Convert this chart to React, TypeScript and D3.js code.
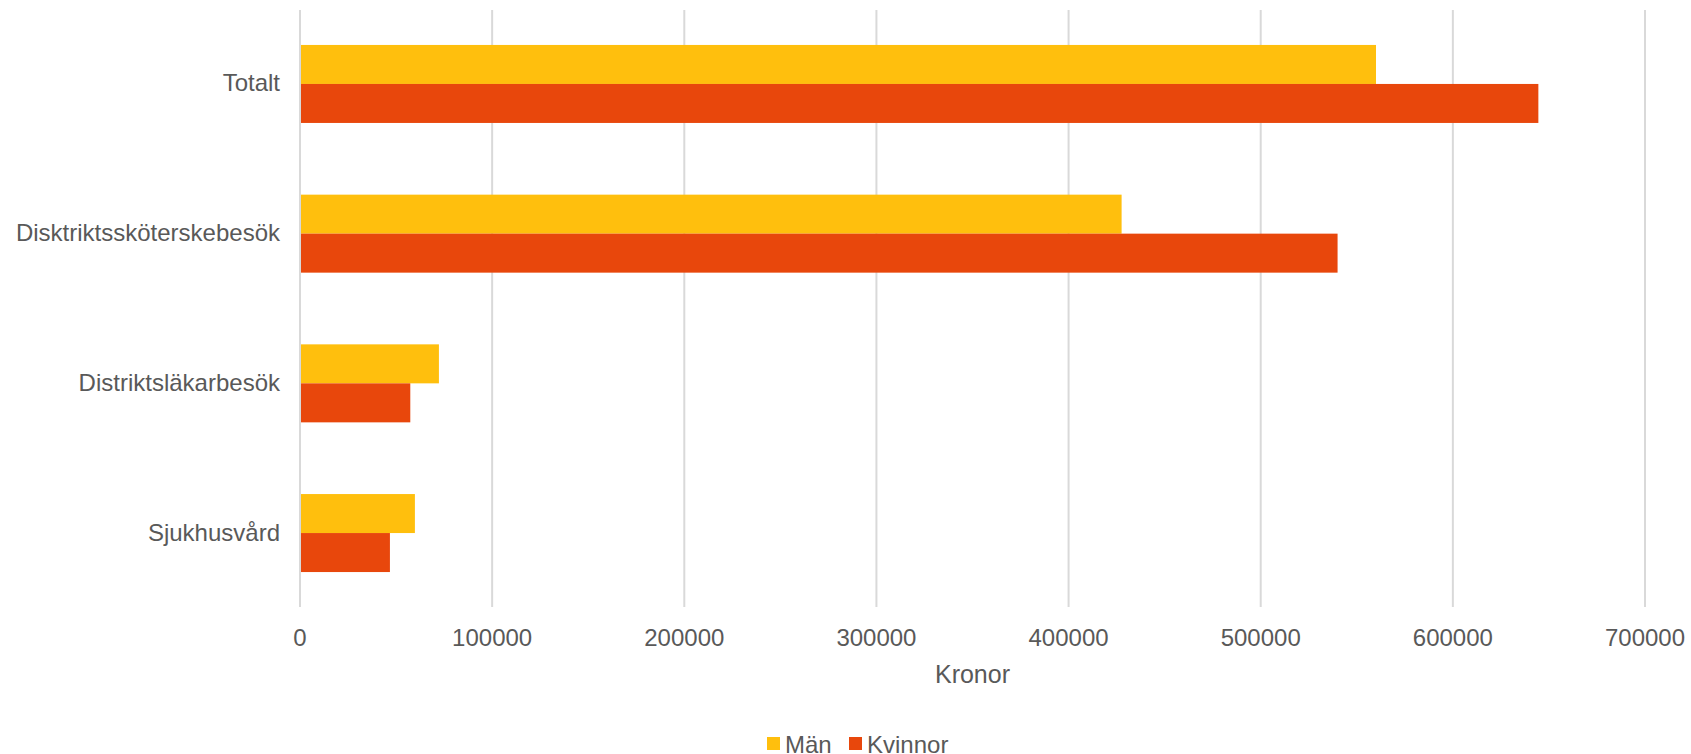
import React from "react";
import * as d3 from "d3";

const categories = ["Totalt", "Disktriktssköterskebesök", "Distriktsläkarbesök", "Sjukhusvård"];
const seriesNames = ["Män", "Kvinnor"];
const manValues = [560000, 427600, 72300, 59800];
const kvinnorValues = [644500, 540000, 57400, 46800];
const xTicks = [0, 100000, 200000, 300000, 400000, 500000, 600000, 700000];
const axisTitle = "Kronor";

const colors = ["#FFBF0D", "#E8470C"];
const textColor = "#595959";
const gridColor = "#D9D9D9";
const font = "'Liberation Sans', Arial, sans-serif";

export default function App() {
  const W = 1691, H = 754;
  const left = 300, right = 1645, top = 10, bottom = 607;
  const x = d3.scaleLinear().domain([0, 700000]).range([left, right]);
  const y = d3.scaleBand<string>().domain(categories).range([top, bottom]).paddingInner(0.479).paddingOuter(0.2335);
  const sub = d3.scaleBand<string>().domain(seriesNames).range([0, y.bandwidth()]);
  const data = [manValues, kvinnorValues];

  return (
    <svg width={W} height={H} style={{ position: "absolute", left: 0, top: 0, background: "#fff" }} fontFamily={font}>
      {xTicks.map((t) => (
        <line key={t} x1={x(t)} x2={x(t)} y1={top} y2={bottom} stroke={gridColor} strokeWidth={2} />
      ))}
      {categories.map((c, i) => (
        <g key={c}>
          {seriesNames.map((s, j) => (
            <rect
              key={s}
              x={x(0) + 1}
              y={(y(c) as number) + (sub(s) as number)}
              width={x(data[j][i]) - x(0) - 1}
              height={sub.bandwidth()}
              fill={colors[j]}
            />
          ))}
          <text
            x={280}
            y={(y(c) as number) + y.bandwidth() / 2 + 7.5}
            textAnchor="end"
            fontSize={24}
            fill={textColor}
          >
            {c}
          </text>
        </g>
      ))}
      {xTicks.map((t) => (
        <text key={"l" + t} x={x(t)} y={645.5} textAnchor="middle" fontSize={24} fill={textColor}>
          {String(t)}
        </text>
      ))}
      <text x={(left + right) / 2} y={683} textAnchor="middle" fontSize={25} fill={textColor}>
        {axisTitle}
      </text>
      <g>
        <rect x={767} y={737} width={13} height={13} fill={colors[0]} />
        <text x={785} y={753} fontSize={24} fill={textColor}>{seriesNames[0]}</text>
        <rect x={849} y={737} width={13} height={13} fill={colors[1]} />
        <text x={867} y={753} fontSize={24} fill={textColor}>{seriesNames[1]}</text>
      </g>
    </svg>
  );
}
